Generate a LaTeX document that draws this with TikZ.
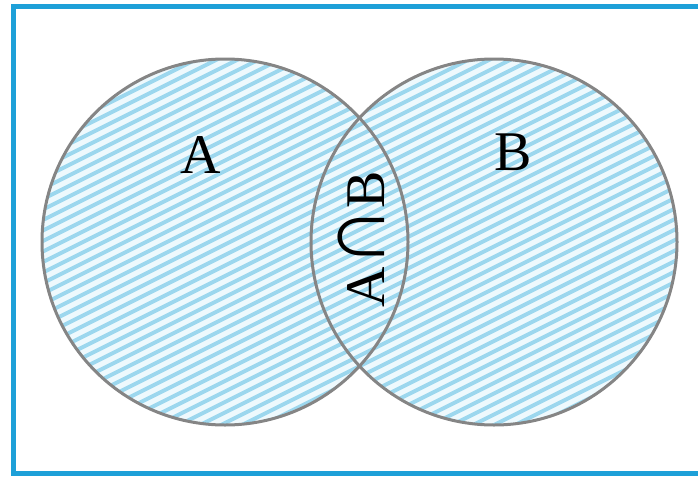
\documentclass[tikz,border=0pt]{standalone}
\usepackage{graphicx}
\usepackage{fontspec}
\setmainfont{Liberation Serif}
\definecolor{frameblue}{HTML}{1EA0D8}
\definecolor{circgray}{HTML}{858585}
\definecolor{hatchbg}{HTML}{EEF9FD}
\definecolor{hatchline}{HTML}{9CD7EE}
\begin{document}
\begin{tikzpicture}[x=1pt,y=-1pt,
  circ/.style={circle, draw=circgray, line width=3pt, minimum size=366pt, inner sep=0pt},
  hatch/.style={draw=hatchline, line width=4pt},
  lbl/.style={font=\fontsize{56}{60}\selectfont, text=black, inner sep=0pt}]
\useasboundingbox (0,0) rectangle (698,479);
\draw[frameblue, line width=5pt] (712,6) -- (13,6) -- (13,473) -- (712,473);
\begin{scope}
  \clip (225,242) circle (183) (494,242) circle (183);
  \fill[hatchbg] (0,0) rectangle (698,479);
  \foreach \i in {0,...,76} {
    \draw[hatch] (0,{\i*10.5}) -- (698,{\i*10.5-349});
  }
\end{scope}
\node[circ] (cA) at (225,242) {};
\node[circ] (cB) at (494,242) {};
\node[lbl] (lA) at (201,155) {A};
\node[lbl] (lB) at (513,152) {B};
\node[lbl, rotate=90] (lAB) at (361,239) {A\kern-1pt\scalebox{1.5}[1.65]{∩}\kern-1pt B};
\end{tikzpicture}
\end{document}
